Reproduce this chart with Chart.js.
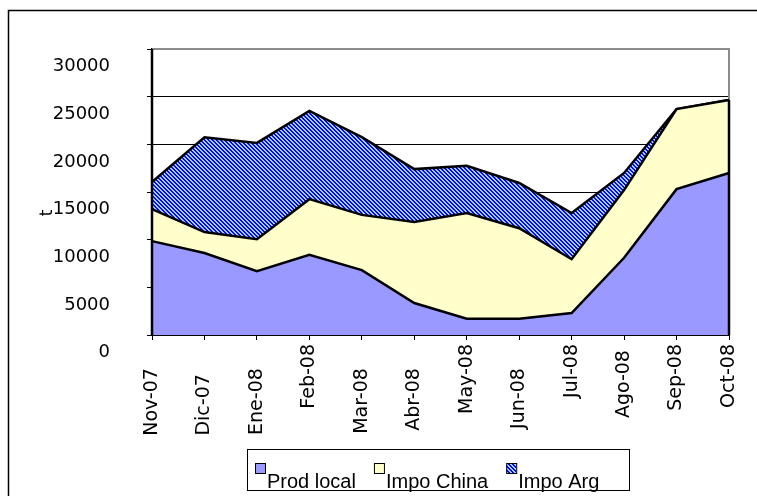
<!DOCTYPE html>
<html><head><meta charset="utf-8">
<script src="https://cdn.jsdelivr.net/npm/chart.js@4"></script>
<style>html,body{margin:0;padding:0;background:#fff;}canvas{display:block;}</style>
</head><body>
<canvas id="c" width="757" height="496"></canvas>
<script>
// ---- data ----
const categories = ['Nov-07','Dic-07','Ene-08','Feb-08','Mar-08','Abr-08','May-08','Jun-08','Jul-08','Ago-08','Sep-08','Oct-08'];
const prodLocal = [9850, 8600, 6700, 8400, 6800, 3350, 1700, 1700, 2300, 8100, 15300, 17000];
const impoChina = [3350, 2200, 3350, 5850, 5800, 8500, 11100, 9500, 5650, 7100, 8400, 7650];
const impoArg   = [2850, 9950, 10100, 9250, 8150, 5550, 4950, 4750, 4850, 1800, 0, 0];
const seriesNames = ['Prod local', 'Impo China', 'Impo Arg'];
const yAxisTitle = 't';
const yMin = 0, yMax = 30000, yStep = 5000;

// ---- styles ----
const xLabelShift = [4,5,4,0,4,4,0,4,0,1,0,0]; // staggered label placement (spaces)
const canvas = document.getElementById('c');
const mainCtx = canvas.getContext('2d');
function makePattern(){
  const t = document.createElement('canvas'); t.width = 4; t.height = 4;
  const g = t.getContext('2d');
  g.fillStyle = '#A6D2FF'; g.fillRect(0,0,4,4);
  g.fillStyle = '#0808F8';
  for (let y=0;y<4;y++) for (let x=0;x<4;x++) if ((((x-y)%4)+4)%4 < 2) g.fillRect(x,y,1,1);
  return mainCtx.createPattern(t,'repeat');
}
const argPattern = makePattern();
const fills = ['#9999FF', '#FFFFCC', argPattern];

const decor = {
  id: 'decor',
  beforeDraw(chart){
    const c = chart.ctx; c.save();
    c.fillStyle = '#fff'; c.fillRect(0,0,chart.width,chart.height);
    c.strokeStyle = '#000'; c.lineWidth = 1.5;
    c.beginPath(); c.moveTo(8.5, chart.height); c.lineTo(8.5, 10.5); c.lineTo(chart.width, 10.5); c.stroke();
    c.restore();
  },
  beforeDatasetsDraw(chart){
    const {ctx, chartArea: a} = chart; ctx.save();
    ctx.strokeStyle = '#8c8c8c'; ctx.lineWidth = 2;
    ctx.beginPath(); ctx.moveTo(a.left, a.top); ctx.lineTo(a.right, a.top); ctx.lineTo(a.right, a.bottom); ctx.stroke();
    ctx.restore();
  },
  afterDatasetsDraw(chart){
    const {ctx, chartArea: a} = chart;
    const top = chart.getDatasetMeta(chart.data.datasets.length-1).data;
    ctx.save(); ctx.strokeStyle = '#000'; ctx.lineWidth = 2.5;
    ctx.beginPath(); ctx.moveTo(a.left, a.bottom); ctx.lineTo(a.left, a.top); ctx.stroke();
    ctx.beginPath(); ctx.moveTo(a.right, a.bottom); ctx.lineTo(a.right, top[top.length-1].y); ctx.stroke();
    ctx.restore();
  },
  afterDraw(chart){
    const ctx = chart.ctx; ctx.save();
    // y axis title
    ctx.translate(48, 213); ctx.rotate(-Math.PI/2);
    ctx.fillStyle = '#000'; ctx.font = '17px "DejaVu Sans"'; ctx.textAlign = 'center'; ctx.textBaseline = 'middle';
    ctx.fillText(yAxisTitle, 0, 0);
    ctx.setTransform(1,0,0,1,0,0);
    // legend
    ctx.strokeStyle = '#000'; ctx.lineWidth = 1;
    ctx.strokeRect(247.5, 449.5, 382, 41);
    ctx.font = '20px "Liberation Sans", Arial, sans-serif'; ctx.textAlign = 'left'; ctx.textBaseline = 'alphabetic';
    let x = 255;
    chart.data.datasets.forEach((ds) => {
      ctx.fillStyle = ds.backgroundColor; ctx.fillRect(x, 463, 10, 10);
      ctx.strokeStyle = '#000'; ctx.strokeRect(x+0.5, 463.5, 10, 10);
      ctx.fillStyle = '#000'; ctx.fillText(ds.label, x + 12, 488);
      x += 12 + ctx.measureText(ds.label).width + 18;
    });
    ctx.restore();
  }
};

new Chart(mainCtx, {
  type: 'line',
  data: {
    labels: categories,
    datasets: [
      { label: seriesNames[0], data: prodLocal, fill: 'origin' },
      { label: seriesNames[1], data: impoChina, fill: '-1' },
      { label: seriesNames[2], data: impoArg, fill: '-1' }
    ].map((d, i) => Object.assign(d, {
      backgroundColor: fills[i], borderColor: '#000', borderWidth: 2.5,
      pointRadius: 0, pointHoverRadius: 0, tension: 0
    }))
  },
  options: {
    responsive: false, animation: false, devicePixelRatio: 1,
    layout: { padding: { top: 49, right: 28, left: 0, bottom: 0 } },
    plugins: { legend: { display: false }, tooltip: { enabled: false }, filler: { propagate: false } },
    scales: {
      x: {
        offset: false,
        grid: { drawOnChartArea: false, drawTicks: true, tickLength: 5, color: '#000', lineWidth: 1 },
        border: { color: '#000', width: 2 },
        ticks: {
          autoSkip: false, minRotation: 90, maxRotation: 90, padding: 4, color: '#000',
          font: { family: 'DejaVu Sans', size: 19 },
          callback: (v, i) => categories[i] + ' '.repeat(xLabelShift[i])
        },
        afterFit: (s) => { s.height = 161; }
      },
      y: {
        stacked: true, min: yMin, max: yMax,
        grid: { tickLength: 5, lineWidth: 1, color: '#000' },
        border: { color: '#000', width: 2 },
        ticks: {
          stepSize: yStep, padding: 37, color: '#000',
          font: { family: 'DejaVu Sans', size: 18 },
          labelOffset: (c) => 17.5 + 8.5 * (c.tick ? c.tick.value : 0) / yMax,
          callback: (v) => String(v)
        },
        afterFit: (s) => { s.width = 152; }
      }
    }
  },
  plugins: [decor]
});
</script>
</body></html>
